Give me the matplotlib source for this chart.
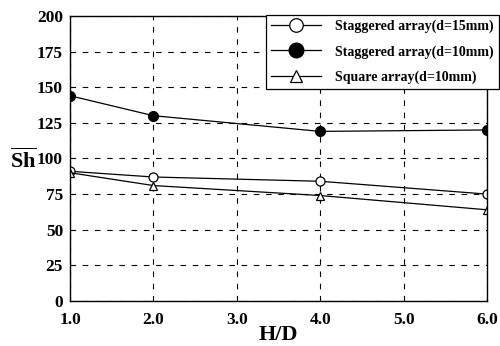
import matplotlib.pyplot as plt

plt.rcParams['font.family'] = 'Liberation Serif'
plt.rcParams['font.weight'] = 'bold'
plt.rcParams['mathtext.fontset'] = 'custom'
plt.rcParams['mathtext.rm'] = 'Liberation Serif:bold'
plt.rcParams['mathtext.bf'] = 'Liberation Serif:bold'

hd = [1.0, 2.0, 4.0, 6.0]
stag15 = [91, 87, 84, 75]
stag10 = [144, 130, 119, 120]
square10 = [90, 81, 74, 64]

xticks = [1.0, 2.0, 3.0, 4.0, 5.0, 6.0]
yticks = [0, 25, 50, 75, 100, 125, 150, 175, 200]

fig = plt.figure(figsize=(5, 3.46), dpi=100)
ax = fig.add_axes([0.14, 0.13, 0.834, 0.824])

ax.plot(hd, stag15, '-o', color='black', mfc='white', mec='black', ms=6.5, lw=0.9,
        mew=0.9, label='Staggered array(d=15mm)')
ax.plot(hd, stag10, '-o', color='black', mfc='black', ms=7, lw=0.9,
        label='Staggered array(d=10mm)')
ax.plot(hd, square10, '-^', color='black', mfc='white', mec='black', ms=5.5, lw=0.9,
        mew=0.9, label='Square array(d=10mm)')

ax.set_xlim(1.0, 6.0)
ax.set_ylim(0, 200)
ax.set_xticks(xticks)
ax.set_xticklabels(['%.1f' % v for v in xticks], fontsize=12.5, fontweight='bold')
ax.set_yticks(yticks)
ax.set_yticklabels([str(v) for v in yticks], fontsize=12.5, fontweight='bold')
ax.tick_params(direction='in', length=0)
ax.tick_params(axis='x', pad=8)
ax.tick_params(axis='y', pad=5)
ax.grid(True, color='black', linestyle=(0, (5, 6)), linewidth=0.8)
for s in ax.spines.values():
    s.set_linewidth(1.0)

# axis titles placed as in the original figure
fig.text(0.556, 0.018, 'H/D', fontsize=16, fontweight='bold', ha='center', va='baseline')
fig.text(0.046, 0.535, r'$\overline{\mathrm{Sh}}$', fontsize=16, ha='center', va='center')

leg = ax.legend(loc='upper right', bbox_to_anchor=(0.997, 0.957),
                bbox_transform=fig.transFigure, fancybox=False, framealpha=1,
                edgecolor='black', fontsize=10, handlelength=3.6, borderpad=0.35,
                labelspacing=0.85, borderaxespad=0, markerscale=1.5, handletextpad=1.0)
leg.get_frame().set_linewidth(0.9)
for t in leg.get_texts():
    t.set_fontweight('bold')

fig.savefig('out.png', dpi=100)
